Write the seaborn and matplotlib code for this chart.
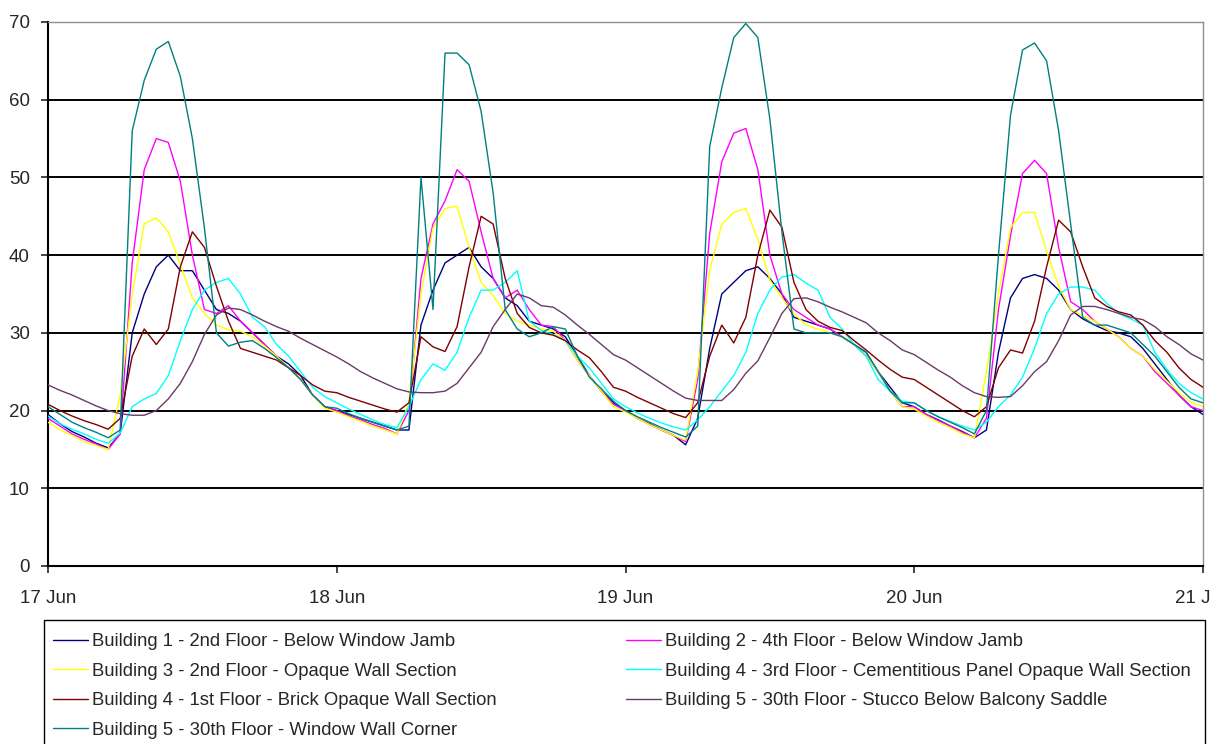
import matplotlib
matplotlib.use("Agg")
import matplotlib.pyplot as plt
from matplotlib.patches import Rectangle
import seaborn as sns
import pandas as pd

# hourly readings, 17 Jun 00:00 to 21 Jun 00:00 (97 points per sensor)
b1_below_jamb = [
    19.5, 18.3, 17.3, 16.6, 15.8, 15.2, 17.0, 30.0, 35.0, 38.5, 40.0, 38.0, 38.0, 35.5, 33.0, 32.5, 31.5, 30.0, 28.5, 27.0, 26.0, 24.5, 22.0, 20.5,
    20.0, 19.5, 19.0, 18.5, 18.0, 17.5, 17.5, 31.0, 35.5, 39.0, 40.0, 41.0, 38.5, 37.0, 34.5, 33.5, 31.5, 31.0, 30.5, 29.5, 27.0, 24.5, 22.5, 21.0,
    20.0, 19.0, 18.3, 17.5, 16.8, 15.6, 19.0, 28.0, 35.0, 36.5, 38.0, 38.5, 37.0, 35.0, 32.0, 31.5, 31.0, 30.5, 29.5, 28.5, 27.5, 25.0, 23.0, 21.0,
    20.5, 19.5, 18.8, 18.0, 17.3, 16.5, 17.5, 27.5, 34.5, 37.0, 37.5, 37.0, 35.5, 33.0, 31.8, 31.0, 30.3, 30.0, 29.5, 28.0, 26.0, 24.0, 22.0, 20.5,
    19.5]
b2_below_jamb = [
    19.0, 18.0, 17.0, 16.3, 15.7, 15.0, 17.0, 39.0, 51.0, 55.0, 54.5, 49.5, 40.0, 33.0, 32.5, 33.5, 31.5, 30.0, 28.5, 27.0, 25.5, 24.0, 22.0, 20.5,
    20.0, 19.3, 18.8, 18.2, 17.7, 17.0, 20.0, 37.0, 44.0, 47.0, 51.0, 49.5, 43.0, 37.0, 34.5, 35.5, 33.0, 31.0, 30.8, 29.0, 26.5, 24.5, 22.5, 20.8,
    20.0, 19.0, 18.2, 17.5, 16.8, 16.0, 24.0, 42.8, 52.0, 55.7, 56.3, 51.0, 40.0, 35.0, 33.0, 32.0, 31.0, 30.5, 29.5, 28.5, 27.0, 25.0, 22.5, 20.5,
    20.5, 19.5, 18.7, 18.0, 17.2, 16.5, 19.0, 33.0, 42.5, 50.5, 52.2, 50.5, 41.0, 34.0, 33.0, 31.5, 30.5, 29.5, 28.0, 27.0, 25.0, 23.5, 22.0, 20.5,
    20.0]
b3_opaque = [
    18.5, 17.5, 16.8, 16.0, 15.5, 15.0, 22.0, 35.0, 44.0, 44.8, 43.0, 38.8, 34.5, 32.5, 31.0, 30.4, 30.2, 29.5, 28.3, 27.0, 25.5, 24.0, 22.0, 20.3,
    19.8, 19.2, 18.6, 18.0, 17.5, 17.0, 21.0, 35.0, 43.5, 46.0, 46.3, 41.0, 36.5, 34.8, 32.5, 31.5, 31.0, 30.5, 30.2, 29.0, 26.5, 24.5, 22.5, 20.5,
    19.8, 19.0, 18.2, 17.5, 16.8, 16.2, 25.0, 38.0, 44.0, 45.5, 46.0, 42.0, 36.8, 34.5, 32.5, 31.0, 30.5, 30.0, 29.5, 28.5, 27.0, 25.0, 22.5, 20.5,
    20.2, 19.3, 18.5, 17.8, 17.0, 16.5, 25.0, 35.0, 43.5, 45.5, 45.5, 40.5, 36.0, 33.0, 32.2, 31.5, 30.5, 29.5, 28.0, 27.0, 25.3, 23.8, 22.3, 21.0,
    20.5]
b4_cementitious = [
    19.3, 18.3, 17.6, 17.0, 16.3, 15.8, 17.1, 20.5, 21.5, 22.2, 24.5, 29.0, 33.0, 35.5, 36.5, 37.0, 35.0, 32.0, 30.8, 28.5, 27.0, 25.0, 23.0, 21.8,
    21.0, 20.2, 19.5, 18.8, 18.2, 17.8, 20.5, 24.0, 26.0, 25.2, 27.5, 32.0, 35.5, 35.5, 36.5, 38.0, 31.5, 30.3, 29.8, 29.0, 27.0, 25.5, 23.5, 21.5,
    20.5, 19.7, 19.0, 18.4, 17.9, 17.5, 18.8, 20.5, 22.5, 24.5, 27.5, 32.5, 35.5, 37.2, 37.5, 36.4, 35.5, 32.0, 30.5, 28.5, 27.0, 24.0, 22.5, 21.2,
    21.0, 20.0, 19.2, 18.6, 18.0, 17.5, 18.5, 20.5, 22.0, 24.3, 28.0, 32.5, 35.0, 35.9, 35.9, 35.5, 33.8, 32.5, 31.8, 31.0, 27.5, 25.3, 23.5, 22.3,
    21.5]
b4_brick = [
    20.8, 20.0, 19.3, 18.7, 18.2, 17.6, 19.0, 27.0, 30.5, 28.5, 30.5, 38.5, 43.0, 41.0, 36.0, 31.5, 28.0, 27.5, 27.0, 26.5, 25.5, 24.5, 23.3, 22.5,
    22.3, 21.7, 21.2, 20.7, 20.2, 19.8, 21.0, 29.5, 28.2, 27.6, 30.8, 38.5, 45.0, 44.0, 37.0, 32.5, 30.7, 30.0, 29.7, 29.0, 27.8, 26.8, 25.0, 23.0,
    22.5, 21.7, 21.0, 20.3, 19.6, 19.1, 21.0, 27.0, 31.0, 28.7, 32.0, 40.0, 45.8, 43.6, 36.5, 33.0, 31.5, 30.7, 30.3, 29.0, 27.8, 26.5, 25.3, 24.3,
    24.0, 23.0, 22.0, 21.0, 20.0, 19.2, 20.5, 25.5, 27.8, 27.4, 31.5, 38.5, 44.5, 43.0, 38.5, 34.5, 33.4, 32.7, 32.3, 31.0, 29.0, 27.5, 25.5, 24.0,
    23.0]
b5_stucco = [
    23.3, 22.6, 22.0, 21.3, 20.6, 20.0, 19.6, 19.4, 19.4, 20.0, 21.5, 23.5, 26.3, 29.8, 32.3, 33.2, 33.0, 32.3, 31.5, 30.8, 30.2, 29.3, 28.5, 27.7,
    26.9, 26.0, 25.0, 24.2, 23.5, 22.8, 22.4, 22.3, 22.3, 22.5, 23.5, 25.5, 27.5, 30.8, 33.0, 35.0, 34.5, 33.5, 33.3, 32.3, 31.0, 29.8, 28.5, 27.2,
    26.5, 25.5, 24.5, 23.5, 22.5, 21.6, 21.3, 21.3, 21.3, 22.7, 24.8, 26.4, 29.4, 32.5, 34.4, 34.5, 34.0, 33.3, 32.7, 32.0, 31.3, 30.0, 29.0, 27.8,
    27.2, 26.2, 25.2, 24.3, 23.2, 22.3, 21.8, 21.7, 21.8, 23.2, 25.0, 26.3, 29.0, 32.3, 33.4, 33.4, 33.0, 32.5, 32.0, 31.7, 30.8, 29.5, 28.5, 27.3,
    26.5]
b5_window_wall = [
    20.5, 19.5, 18.5, 17.8, 17.2, 16.5, 17.5, 56.0, 62.5, 66.5, 67.5, 63.0, 55.0, 43.5, 30.0, 28.3, 28.8, 29.0, 28.0, 26.8, 25.5, 24.0, 22.0, 20.5,
    20.3, 19.6, 19.0, 18.5, 18.0, 17.5, 18.0, 50.0, 33.0, 66.0, 66.0, 64.5, 58.5, 48.0, 33.0, 30.5, 29.5, 30.0, 30.8, 30.5, 27.0, 24.3, 22.8, 21.2,
    20.0, 19.2, 18.5, 17.8, 17.2, 16.6, 18.0, 54.0, 61.5, 68.0, 69.8, 68.0, 57.5, 43.0, 30.5, 30.0, 30.0, 30.0, 29.5, 28.5, 27.5, 25.0, 22.5, 21.0,
    21.0, 20.0, 19.2, 18.5, 17.8, 17.0, 20.0, 40.0, 58.0, 66.4, 67.3, 65.0, 56.0, 44.0, 32.0, 31.0, 31.0, 30.5, 30.0, 28.5, 27.0, 25.0, 23.0, 21.5,
    21.0]

sensor_names = [
    "Building 1 - 2nd Floor - Below Window Jamb",
    "Building 2 - 4th Floor - Below Window Jamb",
    "Building 3 - 2nd Floor - Opaque Wall Section",
    "Building 4 - 3rd Floor - Cementitious Panel Opaque Wall Section",
    "Building 4 - 1st Floor - Brick Opaque Wall Section",
    "Building 5 - 30th Floor - Stucco Below Balcony Saddle",
    "Building 5 - 30th Floor - Window Wall Corner",
]
sensor_values = [b1_below_jamb, b2_below_jamb, b3_opaque, b4_cementitious,
                 b4_brick, b5_stucco, b5_window_wall]
sensor_colors = ["#000080", "#ff00ff", "#ffff00", "#00ffff",
                 "#800000", "#6a3a68", "#008080"]

x_labels = ["17 Jun", "18 Jun", "19 Jun", "20 Jun", "21 Jun"]
y_ticks = [0, 10, 20, 30, 40, 50, 60, 70]

times = pd.date_range("2008-06-17 00:00", "2008-06-21 00:00", freq="h")
frames = []
for name, vals in zip(sensor_names, sensor_values):
    frames.append(pd.DataFrame({"time": times, "temp": vals, "sensor": name}))
df = pd.concat(frames, ignore_index=True)

sns.set_style("white")
plt.rcParams["font.family"] = ["Liberation Sans", "DejaVu Sans"]

fig = plt.figure(figsize=(12.1, 7.44), dpi=100)
ax = fig.add_axes([48 / 1210, 178 / 744, 1155 / 1210, 544 / 744])

sns.lineplot(data=df, x="time", y="temp", hue="sensor", hue_order=sensor_names,
             palette=dict(zip(sensor_names, sensor_colors)), linewidth=1.0,
             ax=ax, zorder=3)

for v in y_ticks[1:-1]:
    ax.axhline(v, color="black", lw=1.4, zorder=1)

ax.set_ylim(0, 70)
ax.set_xlim(times[0], times[-1])
ax.set_yticks(y_ticks)
day_ticks = pd.date_range("2008-06-17", "2008-06-21", freq="D")
ax.set_xticks(day_ticks)
ax.set_xticklabels(x_labels)
ax.set_xlabel("")
ax.set_ylabel("")
ax.tick_params(axis="y", length=5, width=1.2, pad=8, labelsize=13.5, direction="out", left=True)
ax.tick_params(axis="x", length=5, width=1.2, pad=12, labelsize=13.5, direction="out", bottom=True)

for side in ["left", "bottom"]:
    ax.spines[side].set_color("black")
    ax.spines[side].set_linewidth(1.5)
for side in ["top", "right"]:
    ax.spines[side].set_color("#909090")
    ax.spines[side].set_linewidth(1.0)

handles, labels = ax.get_legend_handles_labels()
ax.get_legend().remove()
lookup = dict(zip(labels, handles))
order = [0, 2, 4, 6, 1, 3, 5]
leg = fig.legend([lookup[sensor_names[i]] for i in order],
                 [sensor_names[i] for i in order],
                 loc="upper left", bbox_to_anchor=(44 / 1210, 1 - 624 / 744),
                 ncol=2, fontsize=13.3, frameon=False,
                 handlelength=1.9, handletextpad=0.2, labelspacing=0.68,
                 columnspacing=7.0, borderpad=0.49, borderaxespad=0)
for line in leg.get_lines():
    line.set_linewidth(1.0)

# legend box runs off the bottom edge of the picture
fig.patches.append(Rectangle((44 / 1210, -0.05), 1161 / 1210, 1 - 620 / 744 + 0.05,
                             transform=fig.transFigure, fill=False,
                             edgecolor="black", linewidth=1.0, zorder=5))

fig.savefig("out.png", dpi=100)
